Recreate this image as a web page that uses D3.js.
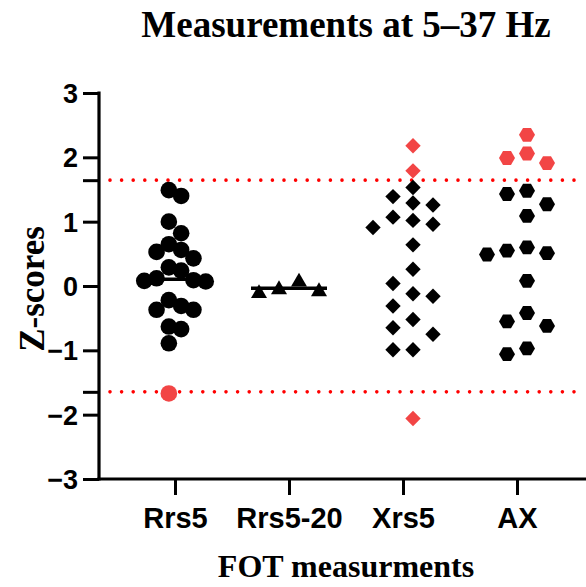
<!DOCTYPE html>
<html>
<head>
<meta charset="utf-8">
<script src="https://cdn.jsdelivr.net/npm/d3@7"></script>
<style>
  html, body { margin: 0; padding: 0; background: #fff; }
  svg { display: block; }
</style>
</head>
<body>
<svg id="chart" width="586" height="587"></svg>
<script>
// Z-scores of forced-oscillation (FOT) measurements, one array per parameter
const categories = ["Rrs5", "Rrs5-20", "Xrs5", "AX"];
const rrs5Values = [1.49, 1.40, 1.00, 0.82, 0.65, 0.56, 0.53, 0.43, 0.29, 0.24, 0.12,
                    0.09, 0.08, 0.07, -0.22, -0.31, -0.37, -0.37, -0.63, -0.67, -0.89, -1.67];
const rrs520Values = [-0.08, 0.10, -0.05, -0.02];
const xrs5Values = [2.18, 1.79, 1.53, 1.39, 1.29, 1.26, 1.07, 1.02, 0.96, 0.91, 0.64,
                    0.26, 0.04, -0.12, -0.16, -0.31, -0.52, -0.65, -0.75, -0.99, -0.99, -2.06];
const axValues = [2.35, 2.06, 1.99, 1.91, 1.48, 1.43, 1.27, 1.09, 0.60, 0.55, 0.51,
                  0.49, 0.08, -0.42, -0.55, -0.62, -0.97, -1.06];
const yTickValues = [-3, -2, -1, 0, 1, 2, 3];
const zLimit = 1.645;                 // normal limits (5th / 95th percentile)
const medianShown = ["Rrs5", "Rrs5-20"];

const seriesValues = [rrs5Values, rrs520Values, xrs5Values, axValues];

const svg = d3.select("#chart");
const W = 586;

const x = d3.scalePoint().domain(categories).range([175, 517]);
const y = d3.scaleLinear().domain([-3, 3]).range([479, 93]);

const axisLeftX = 99;
const black = "#000";
const outColor = "#f24545";

// custom marker shapes
const symbolHexagon = {
  draw(ctx, size) {
    const r = Math.sqrt(size / (1.5 * Math.sqrt(3)));
    for (let k = 0; k < 6; k++) {
      const a = k * Math.PI / 3;
      const px = r * Math.cos(a), py = r * Math.sin(a);
      if (k === 0) ctx.moveTo(px, py); else ctx.lineTo(px, py);
    }
    ctx.closePath();
  }
};
const symbolSquareDiamond = {
  draw(ctx, size) {
    const h = Math.sqrt(size / 2);
    ctx.moveTo(0, -h); ctx.lineTo(h, 0); ctx.lineTo(0, h); ctx.lineTo(-h, 0);
    ctx.closePath();
  }
};
const symbolBoxTriangle = {
  draw(ctx, size) {
    // equilateral, centred on its bounding box
    const s = Math.sqrt(size * 4 / Math.sqrt(3));
    const h = s * Math.sqrt(3) / 2;
    ctx.moveTo(0, -h / 2); ctx.lineTo(s / 2, h / 2); ctx.lineTo(-s / 2, h / 2);
    ctx.closePath();
  }
};

const markers = [
  { type: d3.symbolCircle, size: Math.PI * 8.3 * 8.3, step: 12.3, half: true, gapX: 12, gapY: 16 },
  { type: symbolBoxTriangle, size: Math.sqrt(3) / 4 * 16 * 16, step: 10, half: false, gapX: 20, gapY: 15 },
  { type: symbolSquareDiamond, size: 2 * 7.7 * 7.7, step: 10, half: false, gapX: 20, gapY: 15 },
  { type: symbolHexagon, size: 1.5 * Math.sqrt(3) * 8 * 8, step: 10, half: false, gapX: 20, gapY: 15 }
];

// column-based scatter: spread points sideways so neighbours do not collide
function swarm(values, m) {
  const pts = values.map(v => ({ v, py: y(v), dx: 0 }));
  const cand = [];
  for (let k = 0; k < 10; k++) {
    const o = m.half ? (k + 0.5) * m.step : k * m.step;
    if (o === 0) cand.push(0); else { cand.push(-o); cand.push(o); }
  }
  const placed = [];
  pts.slice().sort((a, b) => a.py - b.py).forEach(p => {
    for (const off of cand) {
      const ok = placed.every(q => Math.abs(q.dx - off) >= m.gapX - 1e-6 ||
                                   Math.abs(q.py - p.py) >= m.gapY - 1e-6);
      if (ok) { p.dx = off; break; }
    }
    placed.push(p);
  });
  const lo = d3.min(pts, p => p.dx), hi = d3.max(pts, p => p.dx);
  const mid = (lo + hi) / 2;
  pts.forEach(p => p.dx -= mid);
  return pts;
}

// dotted reference lines at ±1.645
svg.append("g").selectAll("line")
  .data([zLimit, -zLimit])
  .join("line")
  .attr("x1", 110).attr("x2", 584)
  .attr("y1", d => y(d)).attr("y2", d => y(d))
  .attr("stroke", "#ff0000")
  .attr("stroke-width", 3.6)
  .attr("stroke-linecap", "round")
  .attr("stroke-dasharray", "0 11.6");

// y axis
const yAxis = d3.axisLeft(y)
  .tickValues([...yTickValues, zLimit, -zLimit])
  .tickSize(16)
  .tickSizeOuter(0)
  .tickPadding(5)
  .tickFormat(d => yTickValues.includes(d) ? d3.format("d")(d) : "");
const gy = svg.append("g")
  .attr("transform", `translate(${axisLeftX},0)`)
  .call(yAxis);
gy.select(".domain").attr("stroke", black).attr("stroke-width", 3.2)
  .attr("d", `M0,${y(3) - 1.5}V${y(-3) + 1.5}`);
gy.selectAll(".tick line").attr("stroke", black).attr("stroke-width", 3);
gy.selectAll(".tick text")
  .attr("font-family", "'Liberation Sans', Arial, sans-serif")
  .attr("font-weight", "bold")
  .attr("font-size", 27)
  .attr("fill", black)
  .attr("dy", "0.35em");

// x axis
const xAxis = d3.axisBottom(x).tickSize(16).tickSizeOuter(0).tickPadding(12);
const gx = svg.append("g")
  .attr("transform", `translate(0,${y(-3)})`)
  .call(xAxis);
gx.select(".domain").attr("stroke", black).attr("stroke-width", 3.2)
  .attr("d", `M${axisLeftX - 1.6},0H${W}`);
gx.selectAll(".tick line").attr("stroke", black).attr("stroke-width", 3);
gx.selectAll(".tick text")
  .attr("font-family", "'Liberation Sans', Arial, sans-serif")
  .attr("font-weight", "bold")
  .attr("font-size", 29)
  .attr("fill", black);

// points
categories.forEach((cat, i) => {
  const m = markers[i];
  const pts = swarm(seriesValues[i], m);
  const cx = x(cat);
  svg.append("g").selectAll("path")
    .data(pts)
    .join("path")
    .attr("d", d3.symbol().type(m.type).size(m.size))
    .attr("transform", d => `translate(${cx + d.dx},${d.py})`)
    .attr("fill", d => Math.abs(d.v) > zLimit ? outColor : black);

  if (medianShown.includes(cat)) {
    const med = d3.median(seriesValues[i]);
    svg.append("line")
      .attr("x1", cx - 38).attr("x2", cx + 38)
      .attr("y1", y(med)).attr("y2", y(med))
      .attr("stroke", black)
      .attr("stroke-width", 3.5);
  }
});

// titles
svg.append("text")
  .attr("x", 346).attr("y", 37)
  .attr("text-anchor", "middle")
  .attr("font-family", "'Liberation Serif', 'Times New Roman', serif")
  .attr("font-weight", "bold")
  .attr("font-size", 37)
  .text("Measurements at 5–37 Hz");

svg.append("text")
  .attr("x", 346).attr("y", 577)
  .attr("text-anchor", "middle")
  .attr("font-family", "'Liberation Serif', 'Times New Roman', serif")
  .attr("font-weight", "bold")
  .attr("font-size", 32)
  .text("FOT measurments");

svg.append("text")
  .attr("transform", "translate(44,289) rotate(-90)")
  .attr("text-anchor", "middle")
  .attr("font-family", "'Liberation Serif', 'Times New Roman', serif")
  .attr("font-weight", "bold")
  .attr("font-size", 35)
  .text("Z-scores");
</script>
</body>
</html>
